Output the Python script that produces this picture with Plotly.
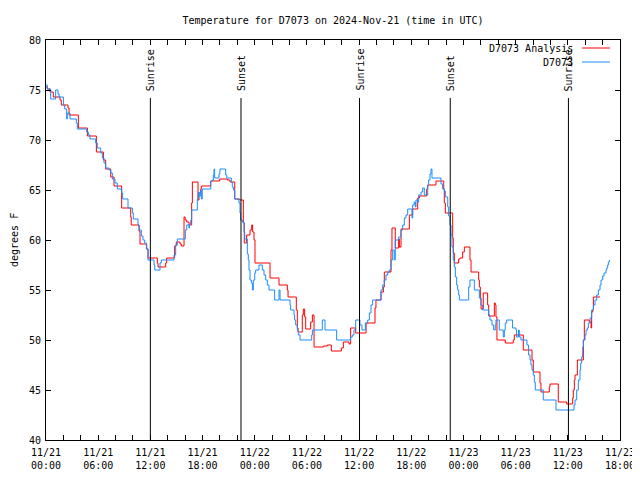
import pandas as pd
import plotly.graph_objects as go

START = pd.Timestamp("2024-11-21 00:00")

# Station observations (hours after 11/21 00:00 UTC, deg F)
obs_hours = [0, 0.15, 0.54, 1.11, 1.38, 1.5, 2.0, 2.15, 2.38, 2.45, 2.76, 3.49, 3.6, 4.68, 4.87, 5.06, 5.71, 5.9, 6.29, 6.48,
             6.67, 6.86, 7.24, 7.44, 7.63, 7.93, 8.2, 8.7, 8.82, 9.43, 9.93, 10.04, 10.58, 10.7, 10.96, 11.15, 11.35, 11.54,
             11.73, 12.42, 12.5, 13.11, 13.26, 14.72, 14.91, 15.1, 16.02, 16.18, 16.44, 16.5, 16.64, 16.75, 17.4, 17.51,
             17.59, 17.79, 17.86, 17.97, 18.94, 19.12, 19.24, 19.32, 19.39, 19.89, 20.0, 20.66, 20.78, 21.31, 21.42, 21.54,
             21.7, 22.19, 22.31, 22.38, 22.57, 22.77, 22.85, 23.15, 23.26, 23.34, 23.46, 23.61, 23.73, 23.84, 24.0, 24.11,
             24.49, 24.87, 25.07, 25.26, 25.45, 25.64, 26.29, 26.79, 26.91, 28.06, 28.13, 28.52, 28.59, 28.71, 28.9, 29.01,
             29.21, 30.55, 30.63, 31.77, 32.08, 33.42, 35.03, 35.22, 35.41, 35.61, 36.1, 36.33, 36.72, 36.99, 37.18, 37.37,
             37.56, 38.52, 38.71, 38.9, 39.09, 39.29, 39.48, 39.67, 39.86, 40.05, 40.16, 40.55, 40.82, 41.01, 41.2, 41.39,
             41.59, 42.08, 42.16, 42.35, 42.47, 42.54, 42.74, 42.85, 43.12, 43.31, 43.5, 43.89, 44.0, 44.15, 44.27, 44.38,
             45.42, 45.61, 45.8, 45.92, 46.19, 46.3, 46.45, 46.57, 46.68, 46.83, 46.95, 47.07, 47.22, 47.33, 47.45, 47.53,
             48.6, 48.75, 49.25, 49.83, 50.02, 50.21, 50.9, 51.05, 51.28, 51.47, 51.66, 51.74, 52.12, 52.58, 52.7, 52.81,
             52.97, 53.65, 54.04, 54.11, 54.34, 54.42, 54.61, 55.3, 55.49, 55.65, 55.76, 55.88, 56.03, 56.15, 56.26, 57.18,
             58.64, 60.71, 60.83, 61.02, 61.21, 61.4, 61.48, 61.59, 61.71, 61.79, 61.98, 62.1, 62.25, 62.36, 62.55, 62.74,
             62.94, 63.13, 63.32, 63.51, 63.7, 63.82, 64.01, 64.16, 64.39, 64.47, 64.58, 64.66, 64.78]
obs_temps = [75.5, 75.1, 74.1, 75.0, 74.6, 74.3, 73.5, 73.1, 72.1, 72.7, 72.1, 71.7, 71.1, 70.8, 70.5, 70.1, 69.7, 69.2, 68.7, 68.2,
             67.7, 67.2, 67.0, 66.7, 66.1, 65.7, 65.1, 64.7, 64.1, 63.2, 62.7, 62.1, 61.5, 61.0, 60.4, 60.0, 59.7, 59.1,
             58.0, 57.5, 57.0, 57.7, 58.0, 58.5, 59.5, 60.1, 61.0, 61.5, 61.2, 61.6, 62.0, 63.0, 64.1, 64.8,
             64.4, 65.0, 64.1, 65.1, 65.9, 66.0, 66.5, 67.1, 66.2, 66.6, 67.1, 66.5, 66.2, 65.8, 65.3, 65.0,
             64.1, 63.7, 62.7, 62.0, 61.8, 60.8, 60.1, 58.6, 58.0, 57.0, 56.0, 55.7, 55.0, 56.0, 56.7, 57.0,
             57.5, 57.0, 56.5, 56.0, 55.5, 55.0, 54.0, 55.0, 54.0, 53.5, 53.0, 52.5, 52.0, 51.5, 51.0, 50.5,
             50.0, 50.5, 51.0, 52.0, 51.0, 50.0, 50.3, 50.5, 51.0, 52.0, 51.5, 51.0, 51.7, 52.0, 52.7, 53.5,
             54.0, 55.0, 55.5, 56.0, 56.5, 56.8, 57.0, 58.0, 59.0, 58.0, 60.0, 60.3, 61.0, 61.5, 62.2, 62.5,
             63.1, 62.2, 63.5, 63.8, 63.3, 64.0, 63.8, 64.5, 64.8, 65.2, 64.5, 65.5, 66.0, 66.6, 67.1, 66.2,
             65.6, 65.1, 64.9, 64.3, 63.3, 62.4, 61.5, 60.5, 59.3, 58.0, 57.3, 56.3, 55.5, 55.0, 54.5, 54.0,
             55.3, 56.0, 55.0, 54.2, 53.5, 53.0, 52.5, 52.0, 51.5, 51.0, 51.5, 52.0, 51.0, 50.3, 51.0, 51.7,
             52.0, 51.2, 51.0, 50.3, 51.0, 50.3, 50.0, 49.5, 48.5, 48.0, 47.5, 47.0, 46.5, 45.8, 45.0, 44.0,
             43.0, 43.5, 44.0, 45.0, 46.0, 47.0, 47.7, 48.3, 49.3, 50.0, 50.5, 51.0, 51.2, 51.7, 52.2, 53.0,
             53.5, 54.0, 54.5, 55.0, 55.5, 56.0, 56.4, 56.7, 57.0, 57.2, 57.5, 57.8, 58.0]

# Analysis series
ana_hours = [0, 0.15, 0.46, 0.84, 1.61, 1.76, 2.53, 2.65, 3.72, 4.76, 5.79, 6.6, 6.86, 7.44, 7.82, 8.7, 9.74, 9.8, 10.7, 10.81,
             11.58, 11.73, 12.8, 12.88, 13.76, 13.87, 14.79, 14.98, 15.41, 15.56, 15.87, 16.0, 16.18, 16.44, 16.75, 16.83,
             17.48, 17.59, 17.79, 17.86, 18.94, 19.97, 20.85, 21.16, 21.7, 22.27, 22.69, 22.8, 23.07, 23.46, 23.65, 23.76,
             23.92, 24.03, 25.76, 26.79, 27.75, 27.83, 28.78, 28.9, 28.98, 29.47, 29.59, 29.74, 29.86, 30.43, 30.63, 30.82,
             31.89, 32.35, 32.81, 33.96, 34.19, 34.84, 35.03, 35.61, 36.8, 37.83, 37.94, 38.52, 38.79, 38.9, 39.67, 39.78,
             40.16, 40.55, 40.63, 40.82, 41.78, 42.16, 42.74, 42.93, 43.77, 43.89, 44.84, 45.73, 45.8, 45.92, 46.76, 46.83,
             46.95, 47.45, 47.6, 47.91, 48.1, 48.75, 48.87, 49.75, 49.83, 49.94, 50.02, 50.28, 50.78, 50.9, 51.55, 51.66,
             51.74, 51.85, 52.81, 53.73, 53.85, 54.88, 55.88, 56.03, 56.8, 56.91, 57.87, 57.95, 58.9, 59.87, 60.56, 60.63,
             60.75, 60.83, 61.1, 61.79, 61.9, 62.47, 62.67, 62.74, 62.86, 62.94, 63.7]
ana_temps = [75.3, 75.1, 74.8, 74.3, 74.0, 73.5, 73.2, 72.5, 71.2, 70.4, 68.8, 68.0, 67.1, 66.3, 65.4, 63.2, 62.3, 61.5, 60.9, 59.6,
             59.1, 58.2, 57.7, 57.3, 57.7, 58.2, 59.4, 59.8, 59.6, 59.4, 62.3, 62.0, 61.8, 61.5, 63.7, 65.8,
             64.0, 64.7, 65.1, 65.4, 65.9, 66.1, 66.0, 65.8, 64.1, 64.0, 61.7, 59.7, 60.5, 61.0, 61.5, 60.8,
             60.0, 57.7, 56.2, 55.5, 55.0, 54.3, 53.0, 51.2, 50.8, 52.5, 53.1, 52.3, 51.1, 51.8, 52.5, 49.3,
             49.4, 49.5, 48.9, 49.2, 49.8, 49.6, 51.2, 50.7, 51.7, 53.2, 54.0, 54.8, 55.3, 56.8, 59.0, 61.2,
             59.2, 60.1, 59.3, 61.1, 62.5, 63.1, 64.2, 64.4, 65.1, 65.5, 65.9, 65.1, 63.7, 62.7, 60.2, 58.7,
             57.7, 58.1, 58.2, 58.8, 59.3, 58.0, 56.8, 56.0, 55.3, 54.2, 53.1, 54.7, 53.5, 52.4, 53.7, 53.5,
             52.3, 50.0, 49.7, 50.0, 50.5, 49.0, 48.0, 46.8, 45.7, 44.8, 45.3, 45.6, 43.8, 43.6, 44.2, 45.0,
             46.0, 46.5, 48.0, 50.0, 52.0, 51.8, 51.2, 52.8, 53.0, 54.3, 54.3]

# Sun events (hours after start)
sun_hours = [12.0, 22.42, 36.05, 46.48, 60.07]
sun_labels = ["Sunrise", "Sunset", "Sunrise", "Sunset", "Sunrise"]

series_names = ["D7073 Analysis", "D7073"]
series_colors = ["#ff0000", "#1a8cff"]

FONT = "DejaVu Sans Mono"


def to_time(hours):
    return [START + pd.Timedelta(hours=h) for h in hours]


fig = go.Figure()
fig.add_trace(go.Scatter(x=to_time(ana_hours), y=ana_temps, mode="lines", name=series_names[0],
                         line=dict(color=series_colors[0], width=1, shape="hv")))
fig.add_trace(go.Scatter(x=to_time(obs_hours), y=obs_temps, mode="lines", name=series_names[1],
                         line=dict(color=series_colors[1], width=1, shape="hv")))

for h, lab in zip(sun_hours, sun_labels):
    t = START + pd.Timedelta(hours=h)
    fig.add_shape(type="line", xref="x", yref="y", x0=t, x1=t, y0=40, y1=74.2,
                  line=dict(color="black", width=1))
    fig.add_annotation(x=t, y=74.7, xref="x", yref="y", text=lab, textangle=-90, showarrow=False,
                       xanchor="center", yanchor="bottom", font=dict(family=FONT, size=10, color="black"))

# legend drawn gnuplot-style (text on left, sample on right)
for i, (nm, col) in enumerate(zip(series_names, series_colors)):
    yp = (440 - (48 + 14 * i)) / 400
    fig.add_annotation(x=(575 - 46) / 574, y=yp, xref="paper", yref="paper", text=nm, showarrow=False,
                       xanchor="right", yanchor="middle", font=dict(family=FONT, size=10, color="black"))
    fig.add_shape(type="line", xref="paper", yref="paper", x0=(582 - 46) / 574, x1=(610 - 46) / 574,
                  y0=yp, y1=yp, line=dict(color=col, width=1))

fig.add_annotation(x=(14 - 46) / 574, y=0.5, xref="paper", yref="paper", text="degrees F", textangle=-90,
                   showarrow=False, xanchor="center", yanchor="middle",
                   font=dict(family=FONT, size=10, color="black"))

# the page body adds an 8px margin; size the figure so page = 640x480 exactly
fig.update_layout(
    width=624, height=464,
    margin=dict(l=38, r=12, t=32, b=32),
    paper_bgcolor="white", plot_bgcolor="white",
    showlegend=False,
    font=dict(family=FONT, size=10, color="black"),
    title=dict(text="Temperature for D7073 on 2024-Nov-21 (time in UTC)", x=0.5, xref="paper",
               y=1 - 12 / 464, yref="container", xanchor="center", yanchor="middle",
               font=dict(family=FONT, size=10, color="black")),
)
fig.update_xaxes(
    type="date",
    range=[START, START + pd.Timedelta(hours=66)],
    tick0=START, dtick=6 * 3600 * 1000,
    tickformat="%m/%d<br>%H:%M",
    ticks="inside", ticklen=5, tickcolor="black",
    ticklabelstandoff=3, ticklabeloverflow="allow",
    minor=dict(dtick=2 * 3600 * 1000, ticks="inside", ticklen=5, tickcolor="black"),
    showline=True, linecolor="black", linewidth=1, mirror="ticks",
    showgrid=False, zeroline=False, automargin=False,
    tickfont=dict(family=FONT, size=10, color="black"),
)
fig.update_yaxes(
    range=[40, 80], dtick=5, tick0=40,
    ticks="inside", ticklen=5, tickcolor="black",
    ticklabelstandoff=2,
    showline=True, linecolor="black", linewidth=1, mirror="ticks",
    showgrid=False, zeroline=False, automargin=False,
    tickfont=dict(family=FONT, size=10, color="black"),
)

fig.write_html("out.html")
